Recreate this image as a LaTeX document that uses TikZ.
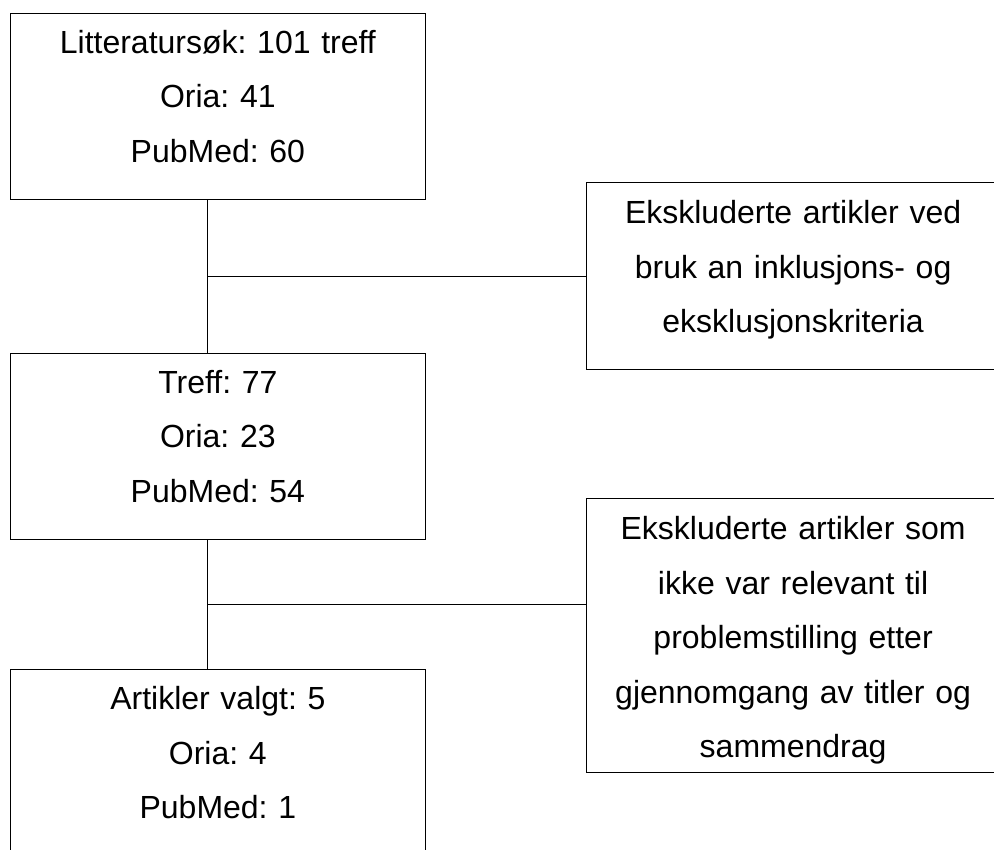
\documentclass[tikz,border=0pt]{standalone}
\usepackage{fontspec}
\setmainfont{Liberation Sans}
\frenchspacing
\usetikzlibrary{positioning,calc}
\tikzset{
    %Define style for boxes
    boks/.style={
           rectangle,
           draw=black, line width=1.2pt,
           inner sep=0pt,
           text width=415.5pt,
           text height=40pt,
           text depth=146pt,
           align=center,
           font=\fontsize{32}{54.5}\selectfont},
    % Define line style
    linje/.style={
           draw=black,
           line width=1.2pt}
}

\begin{document}
\begin{tikzpicture}[x=1pt,y=-1pt]
\clip (0,0) rectangle (994,850);
 %nodes
\node[boks, anchor=north west](b1) at (9.5,12.7){Litteratursøk: 101 treff\\Oria: 41\\PubMed: 60};
\node[boks, below=153pt of b1](b2){Treff: 77\\Oria: 23\\PubMed: 54};
\node[boks, below=129pt of b2](b3){Artikler valgt: 5\\Oria: 4\\PubMed: 1};
\node[boks, anchor=north west, text width=413pt, text height=41pt](e1) at (586,182){Ekskluderte artikler ved\\bruk an inklusjons- og\\eksklusjonskriteria};
\node[boks, anchor=north west, text width=413pt, text height=41pt, text depth=233pt](e2) at (586,498){Ekskluderte artikler som\\ikke var relevant til\\problemstilling etter\\gjennomgang av titler og\\sammendrag};

 %lines
\coordinate (s1) at ([xshift=-10pt]b1.south);
\coordinate (s2) at ([xshift=-10pt]b2.north);
\coordinate (s3) at ([xshift=-10pt]b2.south);
\coordinate (s4) at ([xshift=-10pt]b3.north);
\coordinate (m1) at ($(s1)!0.5!(s2)$);
\coordinate (m2) at ($(s3)!0.5!(s4)$);
\path[linje] (s1) -- (s2);
\path[linje] (s3) -- (s4);
\path[linje] (m1) -- (m1 -| e1.west);
\path[linje] (m2) -- (m2 -| e2.west);

\end{tikzpicture}
\end{document}
